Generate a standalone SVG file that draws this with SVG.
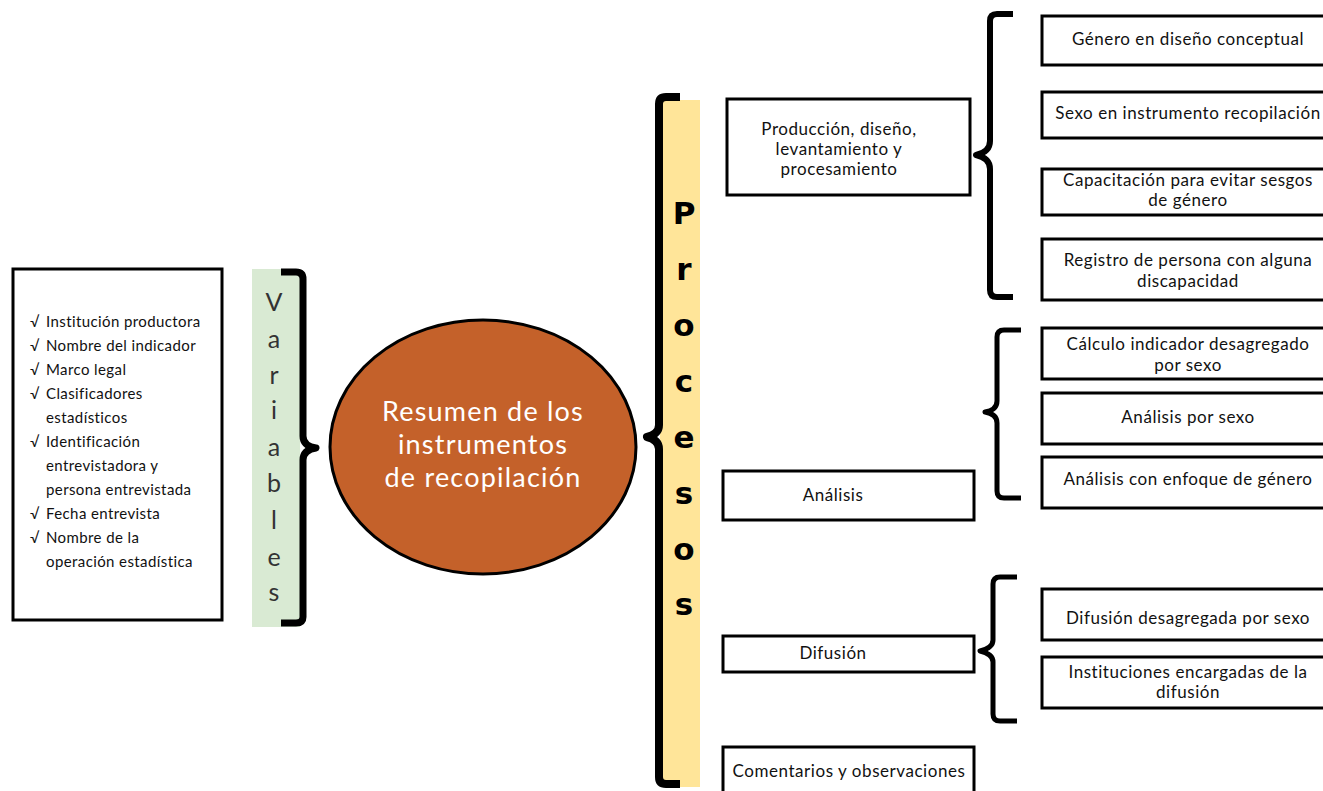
<svg xmlns="http://www.w3.org/2000/svg" width="1323" height="791" viewBox="0 0 1323 791">
<style>
.box{fill:#fff;stroke:#000;stroke-width:3}
.t{font-family:Lato,"Open Sans","Liberation Sans",sans-serif;fill:#111;font-size:17px;letter-spacing:0.55px;text-anchor:middle}
.li{font-family:Lato,"Open Sans","Liberation Sans",sans-serif;fill:#111;font-size:15px;letter-spacing:0.4px}
.brace{fill:none;stroke:#000;stroke-linejoin:round}
.vl{font-family:Lato,"Open Sans","Liberation Sans",sans-serif;font-size:25px;fill:#333;text-anchor:middle}
.pl{font-family:"DejaVu Sans","Liberation Sans",sans-serif;font-size:31px;fill:#000;text-anchor:middle;font-weight:bold}
</style>
<rect width="1323" height="791" fill="#fff"/>

<g id="variables-list">
<rect class="box" x="13" y="269" width="209" height="351"/>
<g class="li">
<text x="30" y="327">√</text><text x="46" y="327">Institución productora</text>
<text x="30" y="351">√</text><text x="46" y="351">Nombre del indicador</text>
<text x="30" y="375">√</text><text x="46" y="375">Marco legal</text>
<text x="30" y="399">√</text><text x="46" y="399">Clasificadores</text>
<text x="46" y="423">estadísticos</text>
<text x="30" y="447">√</text><text x="46" y="447">Identificación</text>
<text x="46" y="471">entrevistadora y</text>
<text x="46" y="495">persona entrevistada</text>
<text x="30" y="519">√</text><text x="46" y="519">Fecha entrevista</text>
<text x="30" y="543">√</text><text x="46" y="543">Nombre de la</text>
<text x="46" y="567">operación estadística</text>
</g>
</g>

<g id="variables-band">
<rect x="252" y="269" width="48" height="358" fill="#d9ead3"/>
<text class="vl" x="274" y="311">V</text>
<text class="vl" x="274" y="348">a</text>
<text class="vl" x="274" y="384">r</text>
<text class="vl" x="274" y="419">i</text>
<text class="vl" x="274" y="456">a</text>
<text class="vl" x="274" y="492">b</text>
<text class="vl" x="274" y="529">l</text>
<text class="vl" x="274" y="566">e</text>
<text class="vl" x="274" y="601">s</text>
</g>

<g id="center">
<ellipse cx="483" cy="447" rx="153" ry="127" fill="#c4612a" stroke="#000" stroke-width="3"/>
<g font-family="Lato,'Open Sans','Liberation Sans',sans-serif" font-size="27" letter-spacing="1.2" fill="#fff" text-anchor="middle">
<text x="483" y="421">Resumen de los</text>
<text x="483" y="454">instrumentos</text>
<text x="483" y="487">de recopilación</text>
</g>
</g>

<g id="procesos-band">
<rect x="660" y="100" width="40" height="687" fill="#ffe599"/>
<text class="pl" x="684" y="224">P</text>
<text class="pl" x="684" y="280">r</text>
<text class="pl" x="684" y="336">o</text>
<text class="pl" x="684" y="392">c</text>
<text class="pl" x="684" y="448">e</text>
<text class="pl" x="684" y="504">s</text>
<text class="pl" x="684" y="560">o</text>
<text class="pl" x="684" y="615">s</text>
</g>

<g id="connectors">
<path class="brace" stroke-width="7" d="M281,272 L296,272 Q303,272 303,279 L303,436 Q303,446 316,448 Q303,450 303,460 L303,617 Q303,623 296,623 L281,623"/>
<path class="brace" stroke-width="8" d="M680,97 L666,97 Q659,97 659,104 L659,425 Q659,434 647,437 Q659,440 659,449 L659,777 Q659,784 666,784 L680,784"/>
<path class="brace" stroke-width="6" d="M1013,14 L997,14 Q990,14 990,21 L990,141 Q990,152 976,155 Q990,158 990,169 L990,290 Q990,297 997,297 L1013,297"/>
<path class="brace" stroke-width="5" d="M1021,330 L1004,330 Q997,330 997,337 L997,401 Q997,410 985,412 Q997,414 997,423 L997,491 Q997,498 1004,498 L1021,498"/>
<path class="brace" stroke-width="5" d="M1017,577 L1000,577 Q993,577 993,584 L993,640 Q993,648 980,651 Q993,654 993,662 L993,714 Q993,721 1000,721 L1017,721"/>
</g>

<g id="produccion">
<rect class="box" x="727" y="99" width="243" height="96"/>
<text class="t" x="839" y="135">Producción, diseño,</text>
<text class="t" x="839" y="155">levantamiento y</text>
<text class="t" x="839" y="175">procesamiento</text>
</g>
<g id="analisis">
<rect class="box" x="723" y="471" width="251" height="49"/>
<text class="t" x="833" y="501">Análisis</text>
</g>
<g id="difusion">
<rect class="box" x="723" y="636" width="251" height="36"/>
<text class="t" x="833" y="659">Difusión</text>
</g>
<g id="comentarios">
<rect class="box" x="723" y="747" width="251" height="50"/>
<text class="t" x="849" y="777">Comentarios y observaciones</text>
</g>

<g id="genero">
<rect class="box" x="1042" y="16" width="290" height="49"/>
<text class="t" x="1188" y="45">Género en diseño conceptual</text>
</g>
<g id="sexo">
<rect class="box" x="1042" y="92" width="290" height="46"/>
<text class="t" x="1188" y="119">Sexo en instrumento recopilación</text>
</g>
<g id="capacitacion">
<rect class="box" x="1042" y="169" width="290" height="46"/>
<text class="t" x="1188" y="186">Capacitación para evitar sesgos</text>
<text class="t" x="1188" y="206">de género</text>
</g>
<g id="registro">
<rect class="box" x="1042" y="239" width="290" height="61"/>
<text class="t" x="1188" y="266">Registro de persona con alguna</text>
<text class="t" x="1188" y="287">discapacidad</text>
</g>
<g id="calculo">
<rect class="box" x="1042" y="328" width="290" height="51"/>
<text class="t" x="1188" y="350">Cálculo indicador desagregado</text>
<text class="t" x="1188" y="371">por sexo</text>
</g>
<g id="analisis-sexo">
<rect class="box" x="1042" y="393" width="290" height="51"/>
<text class="t" x="1188" y="423">Análisis por sexo</text>
</g>
<g id="analisis-genero">
<rect class="box" x="1042" y="457" width="290" height="51"/>
<text class="t" x="1188" y="485">Análisis con enfoque de género</text>
</g>
<g id="difusion-sexo">
<rect class="box" x="1042" y="589" width="290" height="51"/>
<text class="t" x="1188" y="624">Difusión desagregada por sexo</text>
</g>
<g id="instituciones">
<rect class="box" x="1042" y="657" width="290" height="51"/>
<text class="t" x="1188" y="678">Instituciones encargadas de la</text>
<text class="t" x="1188" y="698">difusión</text>
</g>
</svg>
